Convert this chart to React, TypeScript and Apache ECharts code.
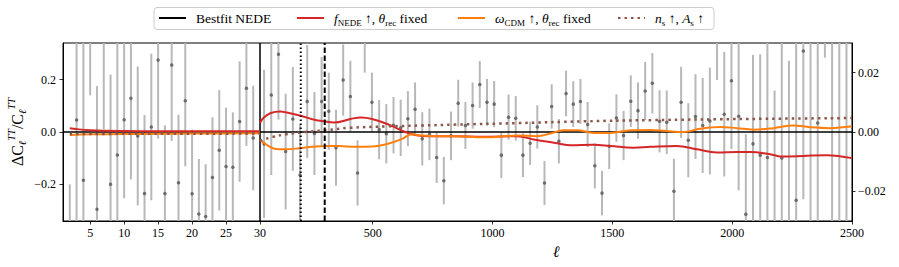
import React, { useEffect, useRef } from "react";
import * as echarts from "echarts";

const FONT = "'Liberation Serif', 'DejaVu Serif', serif";

// ---------- low-ell panel (2..29), left axis ----------
const lowEll = [2, 3, 4, 5, 6, 7, 8, 9, 10, 11, 12, 13, 14, 15, 16, 17, 18, 19, 20, 21, 22, 23, 24, 25, 26, 27, 28, 29];
const lowVal = [-0.5, 0.046, -0.184, 0.5, -0.295, 0.45, -0.2, -0.088, 0.047, 0.129, -0.015, -0.235, 0.019, 0.275, -0.235, 0.256, -0.194, 0.119, -0.236, -0.313, -0.323, -0.174, -0.07, -0.132, -0.135, 0.04, 0.167, -0.023];
const lowErr = [0.3, 0.45, 0.55, 0.36, 0.47, 0.44, 0.42, 0.45, 0.3, 0.31, 0.265, 0.3, 0.28, 0.3, 0.26, 0.29, 0.26, 0.25, 0.245, 0.21, 0.2, 0.23, 0.23, 0.225, 0.21, 0.23, 0.22, 0.2];

// ---------- high-ell panel (30..2500), right axis ----------
const highEll = [47, 77, 107, 137, 167, 197, 227, 257, 287, 317, 347, 377, 407, 437, 467, 497, 527, 557, 587, 617, 647, 677, 707, 737, 767, 797, 827, 857, 887, 917, 947, 977, 1007, 1037, 1067, 1097, 1127, 1157, 1187, 1217, 1247, 1277, 1307, 1337, 1367, 1397, 1427, 1457, 1487, 1517, 1547, 1577, 1607, 1637, 1667, 1697, 1727, 1757, 1787, 1817, 1847, 1877, 1907, 1937, 1967, 1997, 2027, 2057, 2087, 2117, 2147, 2177, 2207, 2237, 2267, 2297, 2327, 2357, 2387, 2417, 2447, 2477];
const highVal = [-0.004, 0.0125, 0.0262, -0.0066, 0.0044, -0.0145, 0.0103, -0.0005, 0.0103, 0.007,
  -0.0053, 0.0175, 0.012, -0.0138, 0.032, 0.01, 0.0008, -0.0006, 0.0023, 0.0014,
  0.0045, 0.0077, -0.0023, -0.0008, -0.0086, -0.0164, -0.0013, 0.0097, 0.0022, 0.0089,
  0.016, 0.01, 0.0094, -0.0078, 0.005, 0.0046, -0.0078, -0.0038, 0.0017, -0.0172,
  0.0086, -0.0031, 0.013, 0.0094, 0.0103, 0.0025, -0.0114, -0.0206, -0.0048, 0.0047,
  -0.0012, 0.0104, 0.0072, 0.0138, 0.0164, 0.0036, 0.0033, -0.02, 0.01, -0.0028,
  0.0052, 0.0022, 0.0037, 0.031, 0.006, 0.0173, 0.0053, -0.0277, -0.004, -0.0078,
  -0.0086, -0.032, -0.0088, -0.035, -0.023, 0.0273, 0.04, 0.003, 0.08, -0.04,
  0.035, -0.045];
const highErr = [0.025, 0.027, 0.022, 0.0195, 0.0175, 0.017, 0.019, 0.014, 0.015, 0.013,
  0.0128, 0.012, 0.012, 0.011, 0.012, 0.01, 0.01, 0.01, 0.0095, 0.0095,
  0.0093, 0.009, 0.009, 0.0087, 0.0086, 0.008, 0.0082, 0.0079, 0.0079, 0.0078,
  0.0079, 0.0079, 0.0078, 0.0077, 0.0076, 0.0075, 0.0074, 0.0073, 0.0073, 0.0074,
  0.0075, 0.0075, 0.0077, 0.0077, 0.0076, 0.0076, 0.0076, 0.0075, 0.0077, 0.008,
  0.0083, 0.0087, 0.0095, 0.0098, 0.0102, 0.0105, 0.0107, 0.011, 0.012, 0.0125,
  0.0143, 0.016, 0.018, 0.0135, 0.021, 0.023, 0.025, 0.027, 0.03, 0.034,
  0.04, 0.046, 0.04, 0.059, 0.055, 0.05, 0.08, 0.055, 0.055, 0.09,
  0.1, 0.11];

// ---------- model curves ----------
const redLowEll = [2, 3, 5, 7, 10, 15, 20, 30];
const redLowVal = [0.014, 0.011, 0.007, 0.005, 0.004, 0.003, 0.003, 0.003];
const orangeLowEll = [2, 5, 10, 15, 20, 30];
const orangeLowVal = [-0.011, -0.009, -0.008, -0.007, -0.006, -0.005];
const brownLowEll = [2, 10, 20, 30];
const brownLowVal = [-0.008, -0.007, -0.0065, -0.006];

const redHighEll = [30, 45, 75, 115, 140, 200, 248, 297, 339, 408, 450, 498, 567, 637, 678, 734, 845, 964, 1103, 1172, 1270, 1325, 1422, 1492, 1589, 1659, 1769, 1853, 1936, 2020, 2075, 2158, 2214, 2297, 2394, 2500];
const redHighVal = [0.0031, 0.0048, 0.0064, 0.0069, 0.0066, 0.0055, 0.0043, 0.0036, 0.0032, 0.0044, 0.0049, 0.0044, 0.0025, 0.0, -0.001, -0.0014, -0.0014, -0.0016, -0.0014, -0.0025, -0.0038, -0.0045, -0.0043, -0.0047, -0.0053, -0.005, -0.0047, -0.0058, -0.0069, -0.0067, -0.0067, -0.0075, -0.0083, -0.0081, -0.0078, -0.0088];
const orangeHighEll = [30, 52, 95, 137, 193, 248, 304, 359, 429, 498, 567, 623, 664, 706, 775, 845, 964, 1103, 1186, 1242, 1297, 1353, 1422, 1492, 1575, 1659, 1727, 1797, 1866, 1950, 2020, 2089, 2172, 2255, 2325, 2408, 2500];
const orangeHighVal = [-0.0027, -0.004, -0.0057, -0.0058, -0.0055, -0.005, -0.0047, -0.0047, -0.005, -0.0049, -0.0039, -0.0023, -0.0008, -0.0012, -0.0014, -0.0014, -0.0018, -0.0012, -0.0014, -0.0005, 0.0006, 0.0006, -0.0003, -0.0003, 0.0006, 0.0007, 0.0003, 0.0, 0.0011, 0.0017, 0.0013, 0.0008, 0.0013, 0.0022, 0.0016, 0.0013, 0.0019];
const brownHighEll = [30, 40, 81, 137, 220, 304, 401, 567, 706, 845, 1103, 1381, 1659, 2075, 2500];
const brownHighVal = [-0.003, -0.0027, -0.0017, -0.0008, 0.0, 0.0006, 0.0014, 0.0019, 0.0022, 0.0025, 0.003, 0.0036, 0.004, 0.0044, 0.0047];

const lowTicks = [5, 10, 15, 20, 25, 30];
const highTicks = [500, 1000, 1500, 2000, 2500];
const leftYTicks = [-0.2, 0, 0.2];
const rightYTicks = [-0.02, 0, 0.02];
const dottedEll = 200;
const dashedEll = 300;

const RED = "#d62728";
const ORANGE = "#ff7f0e";
const BROWN = "#8c564b";
const BAR = "#b8b8b8";
const DOT = "#555555";

const zip = (xs: number[], ys: number[]) => xs.map((x, i) => [x, ys[i]]);

const errRender = (params: any, api: any) => {
  const x = api.value(0);
  const v = api.value(1);
  const e = api.value(2);
  const p1 = api.coord([x, v - e]);
  const p2 = api.coord([x, v + e]);
  return {
    type: "line",
    shape: { x1: p1[0], y1: p1[1], x2: p2[0], y2: p2[1] },
    style: { stroke: BAR, lineWidth: 2 },
  };
};

const fmtSigned = (d: number) => (v: number) =>
  (v < 0 ? "\u2212" : "") + Math.abs(v).toFixed(d);

const rich = {
  r: { fontFamily: FONT, fontSize: 13.5, lineHeight: 18, color: "#000" },
  i: { fontFamily: FONT, fontSize: 13.5, fontStyle: "italic", lineHeight: 18, color: "#000" },
  s: { fontFamily: FONT, fontSize: 9, verticalAlign: "bottom", lineHeight: 12, color: "#000" },
};

const legendLabels: Record<string, string> = {
  "Bestfit NEDE": "{r|Bestfit NEDE}",
  fNEDE: "{i|f}{s|NEDE}{r| \u2191, }{i|\u03b8}{s|rec}{r| fixed}",
  wCDM: "{i|\u03c9}{s|CDM}{r| \u2191, }{i|\u03b8}{s|rec}{r| fixed}",
  nsAs: "{i|n}{s|s}{r| \u2191, }{i|A}{s|s}{r| \u2191}",
};

const mkLegend = (name: string, left: number) => ({
  show: true,
  left,
  top: 11,
  padding: 0,
  itemWidth: 27,
  itemHeight: 14,
  selectedMode: false,
  data: [name],
  itemStyle: { opacity: 0 },
  formatter: (n: string) => legendLabels[n],
  textStyle: { rich, padding: [0, 0, 0, 5] },
});

const axisCommonX = {
  type: "value",
  axisLine: { show: true, onZero: false, lineStyle: { color: "#000", width: 1 } },
  splitLine: { show: false },
};

export default function App() {
  const ref = useRef<HTMLDivElement>(null);
  useEffect(() => {
    document.body.style.margin = "0";
    const chart = echarts.init(ref.current!, null, { renderer: "svg" });
    const lineBase = { type: "line", symbol: "none", showSymbol: false, silent: true };
    const option: any = {
      animation: false,
      backgroundColor: "#fff",
      grid: [
        { left: 63, top: 43, width: 197, height: 178, show: true, borderColor: "#000", borderWidth: 1, backgroundColor: "transparent" },
        { left: 260, top: 43, width: 592, height: 178, show: true, borderColor: "#000", borderWidth: 1, backgroundColor: "transparent" },
      ],
      xAxis: [
        {
          ...axisCommonX,
          gridIndex: 0,
          min: 1,
          max: 30,
          axisTick: { show: true, customValues: lowTicks, length: 3.5, lineStyle: { color: "#000", width: 0.8 } },
          axisLabel: { customValues: lowTicks, color: "#000", fontFamily: FONT, fontSize: 12, margin: 6, formatter: (v: number) => String(v) },
        },
        {
          ...axisCommonX,
          gridIndex: 1,
          min: 30,
          max: 2500,
          axisTick: { show: true, customValues: highTicks, length: 3.5, lineStyle: { color: "#000", width: 0.8 } },
          axisLabel: { customValues: highTicks, color: "#000", fontFamily: FONT, fontSize: 12, margin: 6, formatter: (v: number) => String(v) },
          name: "\u2113",
          nameLocation: "middle",
          nameGap: 19,
          nameTextStyle: { fontFamily: FONT, fontSize: 16, fontStyle: "italic", color: "#000" },
        },
      ],
      yAxis: [
        {
          type: "value",
          gridIndex: 0,
          position: "left",
          min: -0.34,
          max: 0.34,
          axisLine: { show: true, onZero: false, lineStyle: { color: "#000", width: 1 } },
          splitLine: { show: false },
          axisTick: { show: true, customValues: leftYTicks, length: 3.5, lineStyle: { color: "#000", width: 0.8 } },
          axisLabel: { customValues: leftYTicks, color: "#000", fontFamily: FONT, fontSize: 12, margin: 7, formatter: fmtSigned(1) },
          name: "{a|\u0394C}{s|\u2113}{p|TT}{a|/C}{s|\u2113}{p|TT}",
          nameLocation: "middle",
          nameGap: 35,
          nameTextStyle: {
            rich: {
              a: { fontFamily: FONT, fontSize: 16, lineHeight: 22, color: "#000" },
              s: { fontFamily: FONT, fontSize: 10.5, lineHeight: 13, verticalAlign: "bottom", fontStyle: "italic", color: "#000" },
              p: { fontFamily: FONT, fontSize: 10.5, lineHeight: 13, verticalAlign: "top", fontStyle: "italic", color: "#000" },
            },
          },
        },
        {
          type: "value",
          gridIndex: 1,
          position: "right",
          min: -0.03,
          max: 0.03,
          axisLine: { show: true, onZero: false, lineStyle: { color: "#000", width: 1 } },
          splitLine: { show: false },
          axisTick: { show: true, customValues: rightYTicks, length: 3.5, lineStyle: { color: "#000", width: 0.8 } },
          axisLabel: { customValues: rightYTicks, color: "#000", fontFamily: FONT, fontSize: 12, margin: 6, formatter: fmtSigned(2) },
        },
      ],
      legend: [
        mkLegend("Bestfit NEDE", 158),
        mkLegend("fNEDE", 296),
        mkLegend("wCDM", 457),
        mkLegend("nsAs", 617),
      ],
      graphic: [
        {
          type: "rect",
          z: 0,
          silent: true,
          shape: { x: 154, y: 7.5, width: 560, height: 22, r: 3 },
          style: { fill: "rgba(255,255,255,0.8)", stroke: "#cccccc", lineWidth: 1 },
        },
      ],
      series: [
        {
          type: "custom", xAxisIndex: 0, yAxisIndex: 0, clip: true, silent: true, z: 1,
          data: lowEll.map((l, i) => [l, lowVal[i], lowErr[i]]),
          encode: { x: 0, y: 1 },
          renderItem: errRender,
        },
        {
          type: "scatter", xAxisIndex: 0, yAxisIndex: 0, symbolSize: 3.5, silent: true, z: 2,
          itemStyle: { color: DOT }, data: zip(lowEll, lowVal), clip: true,
        },
        {
          type: "custom", xAxisIndex: 1, yAxisIndex: 1, clip: true, silent: true, z: 1,
          data: highEll.map((l, i) => [l, highVal[i], highErr[i]]),
          encode: { x: 0, y: 1 },
          renderItem: errRender,
        },
        {
          type: "scatter", xAxisIndex: 1, yAxisIndex: 1, symbolSize: 3.5, silent: true, z: 2,
          itemStyle: { color: DOT }, data: zip(highEll, highVal), clip: true,
        },
        { ...lineBase, name: "Bestfit NEDE", xAxisIndex: 0, yAxisIndex: 0, z: 3, data: [[1, 0], [30, 0]], color: "#000", lineStyle: { color: "#000", width: 1.5 } },
        { ...lineBase, name: "Bestfit NEDE", xAxisIndex: 1, yAxisIndex: 1, z: 3, data: [[30, 0], [2500, 0]], color: "#000", lineStyle: { color: "#000", width: 1.5 } },
        { ...lineBase, name: "fNEDE", xAxisIndex: 0, yAxisIndex: 0, z: 4, smooth: 0.4, data: zip(redLowEll, redLowVal), color: RED, lineStyle: { color: RED, width: 2 } },
        { ...lineBase, name: "fNEDE", xAxisIndex: 1, yAxisIndex: 1, z: 4, smooth: 0.4, data: zip(redHighEll, redHighVal), color: RED, lineStyle: { color: RED, width: 2 } },
        { ...lineBase, name: "wCDM", xAxisIndex: 0, yAxisIndex: 0, z: 5, smooth: 0.4, data: zip(orangeLowEll, orangeLowVal), color: ORANGE, lineStyle: { color: ORANGE, width: 2 } },
        { ...lineBase, name: "wCDM", xAxisIndex: 1, yAxisIndex: 1, z: 5, smooth: 0.4, data: zip(orangeHighEll, orangeHighVal), color: ORANGE, lineStyle: { color: ORANGE, width: 2 } },
        { ...lineBase, name: "nsAs", xAxisIndex: 0, yAxisIndex: 0, z: 6, smooth: 0.4, data: zip(brownLowEll, brownLowVal), color: BROWN, lineStyle: { color: BROWN, width: 2.5, type: [2.5, 4] } },
        { ...lineBase, name: "nsAs", xAxisIndex: 1, yAxisIndex: 1, z: 6, smooth: 0.4, data: zip(brownHighEll, brownHighVal), color: BROWN, lineStyle: { color: BROWN, width: 2.5, type: [2.5, 4] } },
        { ...lineBase, xAxisIndex: 1, yAxisIndex: 1, z: 7, data: [[dottedEll, -0.03], [dottedEll, 0.03]], color: "#000", lineStyle: { color: "#000", width: 2, type: [1.5, 2.5] } },
        { ...lineBase, xAxisIndex: 1, yAxisIndex: 1, z: 7, data: [[dashedEll, -0.03], [dashedEll, 0.03]], color: "#000", lineStyle: { color: "#000", width: 2, type: [5.5, 2.5] } },
      ],
    };
    chart.setOption(option);
    return () => chart.dispose();
  }, []);
  return <div ref={ref} style={{ width: 899, height: 267 }} />;
}
